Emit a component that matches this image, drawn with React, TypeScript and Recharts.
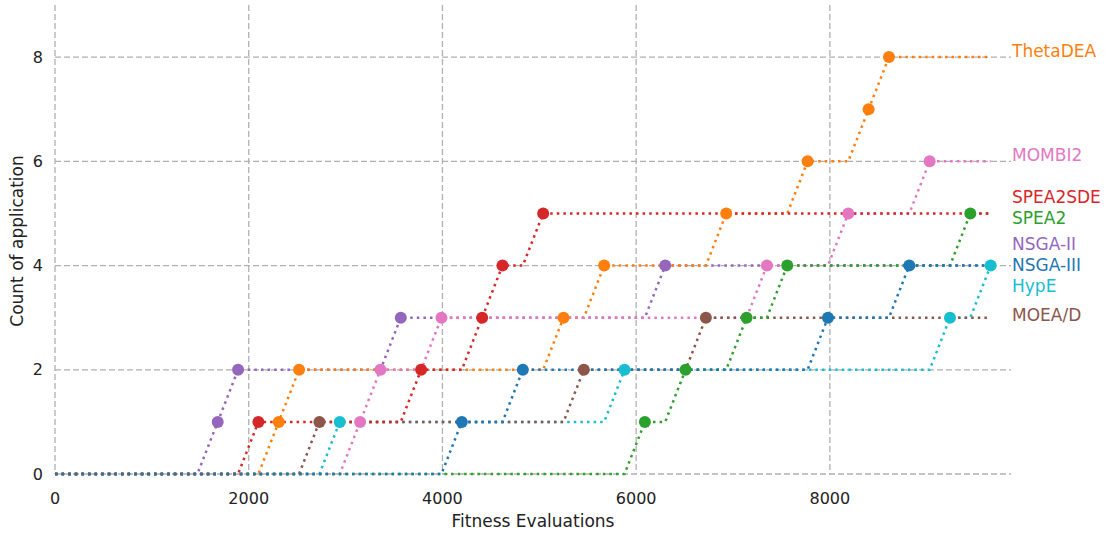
import React from 'react';
import { ComposedChart, Line, Scatter, XAxis, YAxis, CartesianGrid } from 'recharts';

// evaluations are sampled every STEP; each array holds the evaluation counts at which
// the algorithm's count of application went up by one
const STEP = 210;
const LAST_EVAL = 9660;
const X_MAX = 9870;
const Y_MAX = 9;

const thetaDEA = [2310, 2520, 5250, 5670, 6930, 7770, 8400, 8610];
const mombi2 = [3150, 3360, 3990, 7350, 8190, 9030];
const spea2sde = [2100, 3780, 4410, 4620, 5040];
const spea2 = [6090, 6510, 7140, 7560, 9450];
const nsga2 = [1680, 1890, 3570, 6300];
const nsga3 = [4200, 4830, 7980, 8820];
const hype = [2940, 5880, 9240, 9660];
const moead = [2730, 5460, 6720];

const xTicks = [0, 2000, 4000, 6000, 8000];
const yTicks = [0, 2, 4, 6, 8];

// end labels, top to bottom, with the height they sit at
const labelNames = ['ThetaDEA', 'MOMBI2', 'SPEA2SDE', 'SPEA2', 'NSGA-II', 'NSGA-III', 'HypE', 'MOEA/D'];
const labelY = [8, 6, 5.2, 4.8, 4.3, 3.9, 3.5, 2.94];

const COLORS: Record<string, string> = {
  'ThetaDEA': '#ff7f0e',
  'MOMBI2': '#e377c2',
  'SPEA2SDE': '#d62728',
  'SPEA2': '#2ca02c',
  'NSGA-II': '#9467bd',
  'NSGA-III': '#1f77b4',
  'HypE': '#17becf',
  'MOEA/D': '#8c564b',
};

// drawn bottom to top
const series = [
  { name: 'NSGA-II', events: nsga2 },
  { name: 'ThetaDEA', events: thetaDEA },
  { name: 'HypE', events: hype },
  { name: 'MOMBI2', events: mombi2 },
  { name: 'MOEA/D', events: moead },
  { name: 'SPEA2', events: spea2 },
  { name: 'SPEA2SDE', events: spea2sde },
  { name: 'NSGA-III', events: nsga3 },
];

const buildPoints = (events: number[]) => {
  const pts: { x: number; y: number; mark: boolean }[] = [];
  for (let x = 0; x <= LAST_EVAL; x += STEP) {
    pts.push({ x, y: events.filter(e => e <= x).length, mark: events.includes(x) });
  }
  return pts;
};

const labelData = labelNames.map((name, i) => ({ x: X_MAX, y: labelY[i], name }));

const FONT = '"DejaVu Sans", sans-serif';

const LabelShape = (props: any) => {
  const { cx, cy, payload } = props;
  return (
    <text x={cx + 1} y={cy} fill={COLORS[payload.name]} fontSize={17} fontFamily={FONT}>
      {payload.name}
    </text>
  );
};

export default function App() {
  return (
    <div style={{ position: 'absolute', left: 0, top: 0, width: 1105, height: 536, background: '#fff' }}>
      <ComposedChart width={1105} height={536} margin={{ top: 5, right: 94, left: 0, bottom: 0 }}>
        <CartesianGrid
          stroke="#b0b0b0"
          strokeDasharray="6 3"
          strokeWidth={1.3}
          horizontalCoordinatesGenerator={({ offset }: any) =>
            yTicks.map(t => offset.top + offset.height * (1 - t / Y_MAX))
          }
          verticalCoordinatesGenerator={({ offset }: any) =>
            xTicks.map(t => offset.left + (offset.width * t) / X_MAX)
          }
        />
        <XAxis
          dataKey="x"
          type="number"
          domain={[0, X_MAX]}
          ticks={xTicks}
          axisLine={false}
          tickLine={false}
          tickMargin={13}
          height={62}
          tick={{ fontSize: 16, fill: '#222', fontFamily: FONT }}
          label={{
            content: () => (
              <text x={533} y={527} textAnchor="middle" fontSize={17} fill="#222" fontFamily={FONT}>
                Fitness Evaluations
              </text>
            ),
          }}
        />
        <YAxis
          dataKey="y"
          type="number"
          domain={[0, Y_MAX]}
          ticks={yTicks}
          axisLine={false}
          tickLine={false}
          tickMargin={6}
          width={55}
          tick={{ fontSize: 16, fill: '#222', fontFamily: FONT }}
          label={{
            content: () => (
              <text x={23} y={241} transform="rotate(-90, 23, 241)" textAnchor="middle" fontSize={17} fill="#222" fontFamily={FONT}>
                Count of application
              </text>
            ),
          }}
        />
        {series.map(s => {
          const color = COLORS[s.name];
          return (
            <Line
              key={s.name}
              data={buildPoints(s.events)}
              dataKey="y"
              type="linear"
              stroke={color}
              strokeWidth={2.5}
              strokeDasharray="2.5 4.1"
              isAnimationActive={false}
              activeDot={false}
              dot={(p: any) =>
                p.payload.mark ? (
                  <circle key={`${s.name}-${p.index}`} cx={p.cx} cy={p.cy} r={6} fill={color} stroke="none" />
                ) : (
                  <g key={`${s.name}-${p.index}`} />
                )
              }
            />
          );
        })}
        <Scatter data={labelData} dataKey="y" isAnimationActive={false} shape={LabelShape} />
      </ComposedChart>
    </div>
  );
}
